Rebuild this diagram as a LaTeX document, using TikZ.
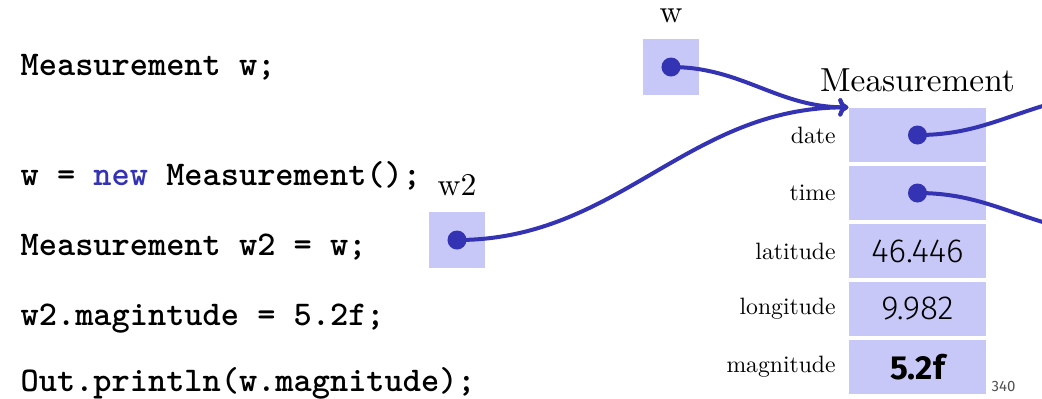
\documentclass[tikz,border=0pt]{standalone}
\usepackage{fontspec}
\newfontfamily\valfont{Fira Sans Light}[BoldFont=Fira Sans Bold]
\newfontfamily\pgfont{Fira Sans}
\newfontfamily\labelfont{lmroman10-regular}[Extension=.otf]
\usetikzlibrary{arrows.meta,positioning}
\definecolor{objblue} {RGB}{51,51,179}
\definecolor{cellfill}{RGB}{200,200,248}
\definecolor{pggray}  {RGB}{80,80,80}
\tikzset{
  codeline/.style={anchor=base west, inner sep=0pt,
                   font=\fontsize{10.4}{12}\selectfont\ttfamily\bfseries},
  varbox/.style={fill=cellfill, minimum size=16.8pt, inner sep=0pt},
  varname/.style={font=\fontsize{9.5}{11}\selectfont},
  refdot/.style={circle, fill=objblue, minimum size=5.7pt, inner sep=0pt},
  fieldcell/.style={fill=cellfill, minimum width=41.1pt, minimum height=16.2pt,
                    inner sep=0pt, font=\valfont\fontsize{10}{12}\selectfont},
  fieldname/.style={font=\labelfont\fontsize{7.1}{8}\selectfont, inner sep=0pt},
  ptr/.style={draw=objblue, line width=1.2pt,
              -{Computer Modern Rightarrow[length=3pt,width=5.5pt]}},
  ptrline/.style={draw=objblue, line width=1.2pt},
}
\begin{document}
\begin{tikzpicture}[x=0.3pt,y=0.3pt]
  \useasboundingbox (0,0) rectangle (1042,-398);

  \node[codeline] (line1) at (20,-75)  {Measurement w;};
  \node[codeline] (line2) at (20,-185) {w = {\color{objblue}new} Measurement();};
  \node[codeline] (line3) at (20,-255) {Measurement w2 = w;};
  \node[codeline] (line4) at (20,-325) {w2.magintude = 5.2f;};
  \node[codeline] (line5) at (20,-391) {Out.println(w.magnitude);};

  \node[varbox] (wbox) at (671,-67) {};
  \node[varname, above=1pt of wbox] (wname) {w};
  \node[refdot] (wdot) at (wbox.center) {};
  \node[varbox] (wtwobox) at (457,-240) {};
  \node[varname, above=1pt of wtwobox] (wtwoname) {w2};
  \node[refdot] (wtwodot) at (wtwobox.center) {};

  \foreach \fname/\fval [count=\i] in {date/{}, time/{}, latitude/46.446,
      longitude/9.982, magnitude/{\bfseries 5.2f}} {
    \node[fieldcell] (c\fname) at (917.5,-77-58*\i) {\fval};
    \node[fieldname, left=3.6pt of c\fname] (n\fname) {\fname};
  }
  \node[above=1pt of cdate, font=\fontsize{10}{12}\selectfont] (mtitle) {Measurement};
  \node[refdot] (ddate) at (cdate.center) {};
  \node[refdot] (dtime) at (ctime.center) {};

  \draw[ptr] (wdot.center) to[out=0,in=180] (cdate.north west);
  \draw[ptr] (wtwodot.center) to[out=0,in=180] (cdate.north west);
  \coordinate (dateout) at (1060,-101);
  \coordinate (timeout) at (1060,-227);
  \draw[ptrline] (ddate.center) to[out=0,in=195] (dateout);
  \draw[ptrline] (dtime.center) to[out=0,in=165] (timeout);

  \node[anchor=base west, inner sep=0pt, text=pggray,
        font=\pgfont\fontsize{4.5}{5}\selectfont] (pagenum) at (991,-391) {340};
\end{tikzpicture}
\end{document}
